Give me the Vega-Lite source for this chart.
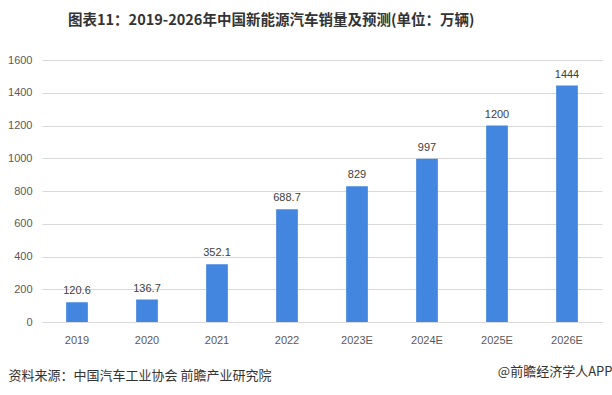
{
  "$schema": "https://vega.github.io/schema/vega-lite/v6.json",
  "autosize": {"type": "none"},
  "width": 560,
  "height": 262,
  "padding": {"left": 42, "top": 60, "right": 10, "bottom": 73},
  "background": "white",
  "title": {
    "text": "图表11：2019-2026年中国新能源汽车销量及预测(单位：万辆)",
    "font": "Noto Sans CJK SC",
    "fontSize": 14.5,
    "fontWeight": "bold",
    "color": "#333333",
    "anchor": "start",
    "frame": "group",
    "dx": 26,
    "offset": 26
  },
  "config": {
    "view": {"stroke": null},
    "font": "Noto Sans CJK SC"
  },
  "data": {
    "values": [
      {"year": "2019", "sales": 120.6, "label": "120.6"},
      {"year": "2020", "sales": 136.7, "label": "136.7"},
      {"year": "2021", "sales": 352.1, "label": "352.1"},
      {"year": "2022", "sales": 688.7, "label": "688.7"},
      {"year": "2023E", "sales": 829, "label": "829"},
      {"year": "2024E", "sales": 997, "label": "997"},
      {"year": "2025E", "sales": 1200, "label": "1200"},
      {"year": "2026E", "sales": 1444, "label": "1444"}
    ]
  },
  "encoding": {
    "x": {
      "field": "year",
      "type": "ordinal",
      "sort": null,
      "scale": {"paddingInner": 0.69, "paddingOuter": 0.345},
      "axis": {
        "title": "资料来源：中国汽车工业协会 前瞻产业研究院",
        "titleFont": "Noto Sans CJK SC",
        "titleFontSize": 13,
        "titleFontWeight": "normal",
        "titleColor": "#333333",
        "titleAnchor": "start",
        "titleAlign": "left",
        "titleBaseline": "middle",
        "titleX": -34,
        "titleY": 53,
        "labelAngle": 0,
        "labelFont": "Liberation Sans",
        "labelFontSize": 11,
        "labelColor": "#595959",
        "labelPadding": 12,
        "ticks": false,
        "domainColor": "#d9d9d9",
        "domainWidth": 1
      }
    },
    "y": {
      "field": "sales",
      "type": "quantitative",
      "scale": {"domain": [0, 1600]}
    }
  },
  "layer": [
    {
      "mark": {"type": "bar", "color": "#4286e0"},
      "encoding": {
        "y": {
          "field": "sales",
          "type": "quantitative",
          "scale": {"domain": [0, 1600]},
          "axis": {
            "title": null,
            "format": "d",
            "values": [0, 200, 400, 600, 800, 1000, 1200, 1400, 1600],
            "labelFont": "Liberation Sans",
            "labelFontSize": 11,
            "labelColor": "#595959",
            "labelPadding": 10,
            "ticks": false,
            "domain": false,
            "gridColor": "#d9d9d9",
            "gridWidth": 1
          }
        }
      }
    },
    {
      "mark": {"type": "text", "baseline": "bottom", "dy": -6, "font": "Liberation Sans", "fontSize": 11, "color": "#404040"},
      "encoding": {
        "text": {"field": "label"},
        "y": {
          "field": "sales",
          "type": "quantitative",
          "scale": {"domain": [0, 1600]},
          "axis": {
            "orient": "right",
            "title": "@前瞻经济学人APP",
            "titleFont": "Noto Sans CJK SC",
            "titleFontSize": 13,
            "titleFontWeight": "normal",
            "titleColor": "#333333",
            "titleAngle": 0,
            "titleAlign": "right",
            "titleBaseline": "middle",
            "titleX": 10,
            "titleY": 311,
            "labels": false,
            "ticks": false,
            "domain": false,
            "grid": false
          }
        }
      }
    }
  ],
  "resolve": {"axis": {"y": "independent"}}
}
